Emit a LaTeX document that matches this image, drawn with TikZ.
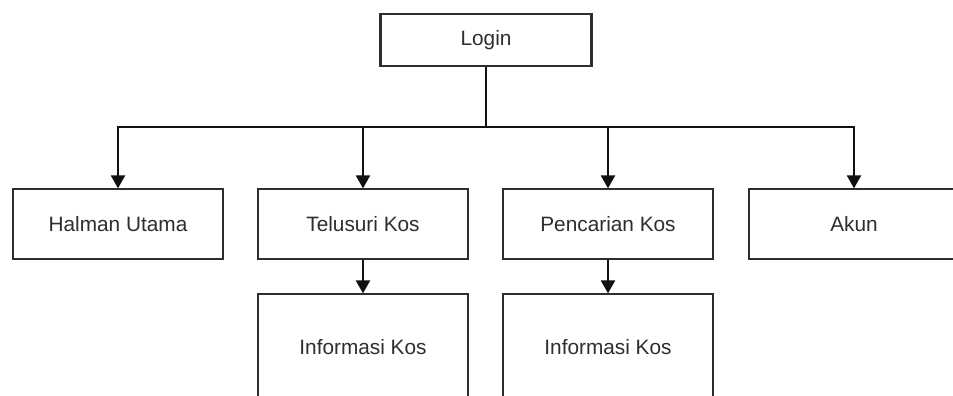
\documentclass[tikz,border=0pt]{standalone}
\usepackage{fontspec}
\setmainfont{Liberation Sans}
\usetikzlibrary{arrows.meta}
\definecolor{ink}{HTML}{2E2E2E}
\definecolor{wire}{HTML}{111111}
\tikzset{
  menubox/.style={draw=ink, line width=2.2pt, fill=white, minimum width=210pt,
    inner sep=0pt, text=ink, font=\fontsize{20.8}{24}\selectfont},
  link/.style={draw=wire, line width=2.2pt},
  arr/.style={link, -{Triangle[length=13pt,width=14pt]}, shorten >=-0.5pt}
}
\begin{document}
\begin{tikzpicture}[x=1pt,y=-1pt]
\useasboundingbox (0,0) rectangle (953,396);
\clip (0,0) rectangle (953,396);
\fill[white] (0,0) rectangle (953,396);

% top node and second-level menu
\node[menubox, minimum width=211pt, minimum height=52pt] (login) at (486,40) {Login};
\node[menubox, minimum height=70pt] (halman) at (118,224) {Halman Utama};
\node[menubox, minimum height=70pt] (telusuri) at (363,224) {Telusuri Kos};
\node[menubox, minimum height=70pt] (pencarian) at (608,224) {Pencarian Kos};
\node[menubox, minimum height=70pt] (akun) at (854,224) {Akun};

% third-level detail pages
\node[menubox, minimum height=106pt] (info1) at (363,347) {Informasi Kos};
\node[menubox, minimum height=106pt] (info2) at (608,347) {Informasi Kos};

% branching bus below the login box
\coordinate (bus) at (486,127);
\draw[link] (login.south) -- (bus);
\draw[arr] (bus) -| (halman.north);
\draw[arr] (bus) -| (telusuri.north);
\draw[arr] (bus) -| (pencarian.north);
\draw[arr] (bus) -| (akun.north);

\draw[arr] (telusuri.south) -- (info1.north);
\draw[arr] (pencarian.south) -- (info2.north);
\end{tikzpicture}
\end{document}
